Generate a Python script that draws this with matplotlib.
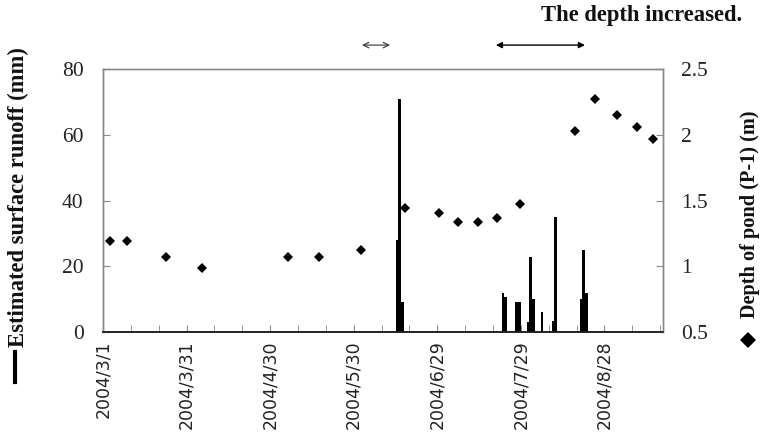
import datetime as dt
import matplotlib
matplotlib.use("Agg")
import matplotlib.pyplot as plt
import matplotlib.dates as mdates
from matplotlib.lines import Line2D
from matplotlib.ticker import FuncFormatter, FixedLocator

# ---- data ----
runoff_dates = ['2004-06-14', '2004-06-15', '2004-06-16',
                '2004-07-22', '2004-07-23', '2004-07-27', '2004-07-28',
                '2004-07-31', '2004-08-01', '2004-08-02', '2004-08-05',
                '2004-08-09', '2004-08-10', '2004-08-19', '2004-08-20', '2004-08-21']
runoff_mm = [28, 71, 9,
             12, 10.7, 9, 9,
             2.9, 22.7, 10, 6,
             3.4, 35, 10, 25, 12]

depth_dates = ['2004-03-03', '2004-03-09', '2004-03-23', '2004-04-05', '2004-05-06',
               '2004-05-17', '2004-06-01', '2004-06-17', '2004-06-29', '2004-07-06',
               '2004-07-13', '2004-07-20', '2004-07-28', '2004-08-17', '2004-08-24',
               '2004-09-01', '2004-09-08', '2004-09-14']
depth_m = [1.19, 1.19, 1.07, 0.99, 1.07,
           1.07, 1.12, 1.44, 1.405, 1.34,
           1.34, 1.365, 1.47, 2.03, 2.27,
           2.15, 2.06, 1.965]

tick_dates = ['2004-03-01', '2004-03-31', '2004-04-30', '2004-05-30',
              '2004-06-29', '2004-07-29', '2004-08-28']
x_start, x_end = '2004-03-01', '2004-09-18'

small_arrow = ('2004-06-02', '2004-06-12')
big_arrow = ('2004-07-20', '2004-08-21')
annotation_text = 'The depth increased.'
left_label = 'Estimated surface runoff (mm)'
right_label = 'Depth of pond (P-1) (m)'


def dnum(s):
    return mdates.date2num(dt.datetime.strptime(s, '%Y-%m-%d'))


serif = 'Liberation Serif'
fig = plt.figure(figsize=(7.64, 4.33), dpi=100)
ax = fig.add_axes([0.1348, 0.2333, 0.8678 - 0.1348, 0.8406 - 0.2333])
ax2 = ax.twinx()

# bars (centred in each day slot)
bx = [dnum(d) + 0.5 for d in runoff_dates]
ax.bar(bx, runoff_mm, width=0.9, color='black', zorder=3)

# diamonds
px = [dnum(d) + 0.5 for d in depth_dates]
ax2.plot(px, depth_m, linestyle='none', marker='D', ms=4.8, mew=0,
         color='black', zorder=4)

ax.set_xlim(dnum(x_start), dnum(x_end))
ax.set_ylim(0, 80)
ax2.set_ylim(0.5, 2.5)
ax.set_yticks([0, 20, 40, 60, 80])
ax2.set_yticks([0.5, 1, 1.5, 2, 2.5])
ax2.set_yticklabels(['0.5', '1', '1.5', '2', '2.5'])

major = [dnum(d) for d in tick_dates]
ax.xaxis.set_major_locator(FixedLocator(major))
minor = [dnum(x_start) + 10 * i for i in range(0, 21)]
ax.xaxis.set_minor_locator(FixedLocator(minor))


def fmt(x, pos):
    d = mdates.num2date(x)
    return f"{d.year}/{d.month}/{d.day}"


ax.xaxis.set_major_formatter(FuncFormatter(fmt))
for lab in ax.get_xticklabels():
    lab.set_rotation(90)
    lab.set_fontfamily('DejaVu Sans')
    lab.set_fontsize(12.5)
    lab.set_color('#222222')

gray = '#888888'
ax.tick_params(axis='x', which='both', direction='in', length=5, color=gray, pad=6)
ax.tick_params(axis='y', direction='in', length=5, color=gray, pad=14, labelsize=15.5)
ax2.tick_params(axis='y', direction='in', length=5, color=gray, pad=13, labelsize=15.5)
for lab in ax.get_yticklabels() + ax2.get_yticklabels():
    lab.set_fontfamily(serif)
    lab.set_color('#222222')

for a in (ax, ax2):
    for s in ('left', 'right', 'top'):
        a.spines[s].set_color(gray)
        a.spines[s].set_linewidth(1.0)
    a.spines['bottom'].set_color('#222222')
    a.spines['bottom'].set_linewidth(1.2)

# axis labels
fig.text(0.0236, 1 - 197.5 / 433, left_label, rotation=90, ha='center', va='center',
         fontfamily=serif, fontweight='bold', fontsize=16.3, color='#111111')
fig.add_artist(Line2D([0.0196, 0.0196], [1 - 352 / 433, 1 - 382 / 433],
                      transform=fig.transFigure, color='black', lw=3))
fig.text(0.982, 1 - 214 / 433, right_label, rotation=90, ha='center', va='center',
         fontfamily=serif, fontweight='bold', fontsize=14.6, color='#111111')
fig.add_artist(Line2D([0.979], [1 - 340 / 433], transform=fig.transFigure,
                      marker='D', ms=8.5, mew=0, color='black', linestyle='none'))

# annotations
trans = ax.get_xaxis_transform()
ax.annotate('', xy=(dnum(small_arrow[1]), 1.091), xytext=(dnum(small_arrow[0]), 1.091),
            xycoords=trans, textcoords=trans, annotation_clip=False,
            arrowprops=dict(arrowstyle='<->', color='#333333', lw=0.8,
                            shrinkA=0, shrinkB=0, mutation_scale=10))
ax.annotate('', xy=(dnum(big_arrow[1]), 1.091), xytext=(dnum(big_arrow[0]), 1.091),
            xycoords=trans, textcoords=trans, annotation_clip=False,
            arrowprops=dict(arrowstyle='<|-|>', color='black', lw=1.0,
                            shrinkA=0, shrinkB=0, mutation_scale=9))
fig.text(0.971, 1 - 16 / 433, annotation_text, ha='right', va='center',
         fontfamily=serif, fontweight='bold', fontsize=16.3, color='#111111')

fig.savefig('out.png', dpi=100)
